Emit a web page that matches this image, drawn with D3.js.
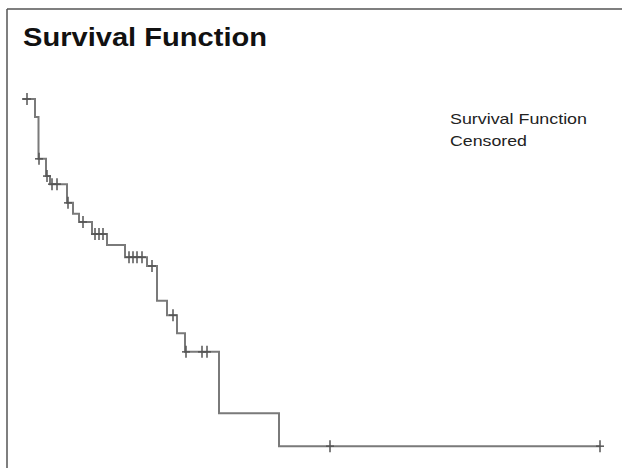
<!DOCTYPE html>
<html>
<head>
<meta charset="utf-8">
<script src="https://cdn.jsdelivr.net/npm/d3@7"></script>
<style>
  html, body { margin: 0; padding: 0; background: #fff; }
  svg { display: block; }
</style>
</head>
<body>
<svg id="chart" width="622" height="468"></svg>
<script>
// Step times (months) and survival after each step
const stepTimes = [0, 2.6, 3.3, 4.8, 5.6, 9.0, 10.2, 11.4, 14.0, 17.0, 20.6, 25.0, 27.0, 29.0, 31.0, 32.6, 39.4, 51.4];
const survival  = [1.000, 0.951, 0.837, 0.790, 0.768, 0.717, 0.687, 0.665, 0.632, 0.602, 0.569, 0.545, 0.450, 0.411, 0.362, 0.311, 0.144, 0.054];
const endTime = 115.6;
// Censored observation times
const censorTimes = [1.0, 3.4, 5.0, 6.0, 7.0, 9.2, 12.2, 14.6, 15.4, 16.2, 21.4, 22.2, 23.0, 24.0, 26.0, 30.2, 32.8, 36.0, 37.0, 61.6, 115.6];
const legendLabels = ["Survival Function", "Censored"];
const titleText = "Survival Function";

const svg = d3.select("#chart");
const W = 622, H = 468;

// frame
svg.append("line").attr("x1", 7).attr("y1", 9).attr("x2", W).attr("y2", 9)
  .attr("stroke", "#555").attr("stroke-width", 1.5);
svg.append("line").attr("x1", 7).attr("y1", 9).attr("x2", 7).attr("y2", H)
  .attr("stroke", "#555").attr("stroke-width", 1.5);

const x = d3.scaleLinear().domain([0, 120]).range([22, 622]);
const y = d3.scaleLinear().domain([0, 1]).range([466, 99]);

const pts = stepTimes.map((t, i) => [t, survival[i]]);
pts.push([endTime, survival[survival.length - 1]]);

const line = d3.line().x(d => x(d[0])).y(d => y(d[1])).curve(d3.curveStepAfter);
svg.append("path").datum(pts)
  .attr("d", line)
  .attr("fill", "none")
  .attr("stroke", "#7a7a7a")
  .attr("stroke-width", 2);

function survAt(t) {
  let s = survival[0];
  for (let i = 0; i < stepTimes.length; i++) if (stepTimes[i] <= t) s = survival[i];
  return s;
}

const marks = svg.append("g").attr("stroke", "#555").attr("stroke-width", 1.5);
censorTimes.forEach(t => {
  const cx = x(t), cy = y(survAt(t));
  marks.append("line").attr("x1", cx).attr("x2", cx).attr("y1", cy - 6).attr("y2", cy + 6);
  marks.append("line").attr("x1", cx - 4).attr("x2", cx + 4).attr("y1", cy).attr("y2", cy);
});

// title
svg.append("text").attr("x", 23).attr("y", 46)
  .attr("font-family", "Liberation Sans, Arial, sans-serif")
  .attr("font-weight", "bold").attr("font-size", 26)
  .attr("fill", "#111")
  .attr("textLength", 244).attr("lengthAdjust", "spacingAndGlyphs")
  .text(titleText);

// legend
const legendW = [137, 77];
legendLabels.forEach((lab, i) => {
  svg.append("text").attr("x", 450).attr("y", 124 + i * 22)
    .attr("font-family", "Liberation Sans, Arial, sans-serif")
    .attr("font-size", 15).attr("fill", "#222")
    .attr("textLength", legendW[i]).attr("lengthAdjust", "spacingAndGlyphs")
    .text(lab);
});
</script>
</body>
</html>
